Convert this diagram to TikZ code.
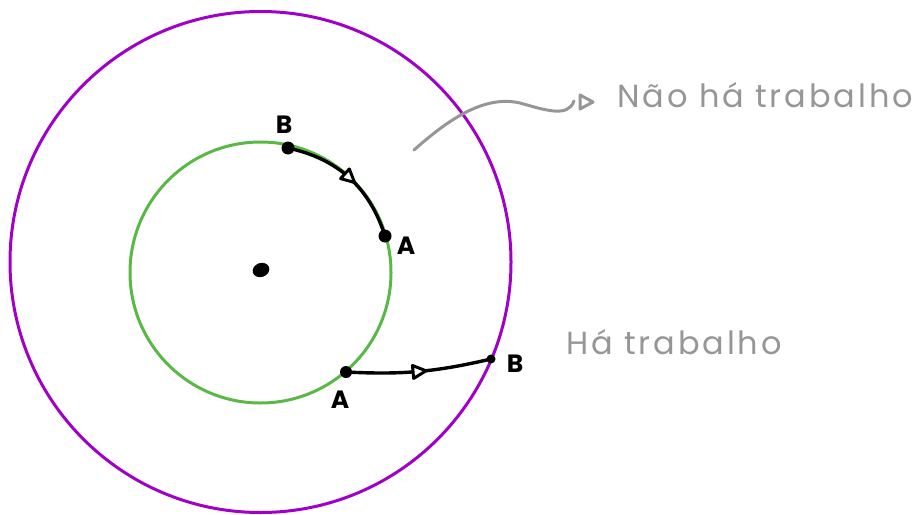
\documentclass[tikz,border=0pt]{standalone}
\usepackage{fontspec}
\setmainfont{Poppins}
\usetikzlibrary{arrows.meta,decorations.markings,shapes.geometric}
\definecolor{purp}{RGB}{160,0,200}
\definecolor{grn}{RGB}{90,185,70}
\definecolor{gry}{RGB}{150,150,150}
\tikzset{
  dotnode/.style={circle,fill=black,inner sep=0pt,minimum size=11pt},
  lbl/.style={font=\fontsize{25}{25}\selectfont\bfseries,text=black,inner sep=0pt},
  note/.style={font=\fontsize{32}{32}\selectfont\addfontfeature{LetterSpace=9},text=gry,inner sep=0pt,anchor=west},
  midarrow/.style={decoration={markings,mark=at position 0.5 with {\draw[line width=3pt,line join=round,fill=white] (-6,-6.5) -- (7,0) -- (-6,6.5) -- cycle;}},postaction={decorate}},
  path/.style={line width=3.4pt,black,line cap=round}
}
\begin{document}
\begin{tikzpicture}[x=1pt,y=1pt]
\useasboundingbox (0,0) rectangle (918,-514);
% circles
\coordinate (c1) at (260.5,-262);
\coordinate (c2) at (260.5,-272.5);
\draw[purp,line width=3pt] (c1) circle (250.5);
\draw[grn,line width=3pt] (c2) circle (130.5);
\node[ellipse,fill=black,inner sep=0pt,minimum width=17pt,minimum height=14pt,rotate=20] (center) at (261,-270) {};
% upper path
\node[dotnode,minimum size=13pt] (B1) at (288,-148) {};
\node[dotnode,minimum size=13pt] (A1) at (385,-236) {};
\draw[path,midarrow] (B1.center) to[bend left=30] (A1.center);
\node[lbl] (lB1) at (284,-125) {B};
\node[lbl] (lA1) at (406,-246) {A};
% lower path
\node[dotnode,minimum size=12pt] (A2) at (346,-372) {};
\node[dotnode,minimum size=9pt] (B2) at (491,-359) {};
\draw[path,midarrow] (A2.center) to[bend right=8] (B2.center);
\node[lbl] (lA2) at (340,-400) {A};
\node[lbl] (lB2) at (515,-364) {B};
% annotation
\coordinate (g0) at (414,-150);
\coordinate (g1) at (520,-103);
\coordinate (g2) at (574,-101);
\draw[gry,line width=3pt,line cap=round]
  (g0) .. controls (450,-118) and (485,-95) .. (g1)
       .. controls (545,-110) and (568,-118) .. (g2);
\draw[gry,line width=3pt,line join=round] (580,-95) -- (593,-102) -- (580,-109) -- cycle;
\node[note] (t1) at (617,-95) {Não há trabalho};
\node[note] (t2) at (566,-342) {Há trabalho};
\end{tikzpicture}
\end{document}
